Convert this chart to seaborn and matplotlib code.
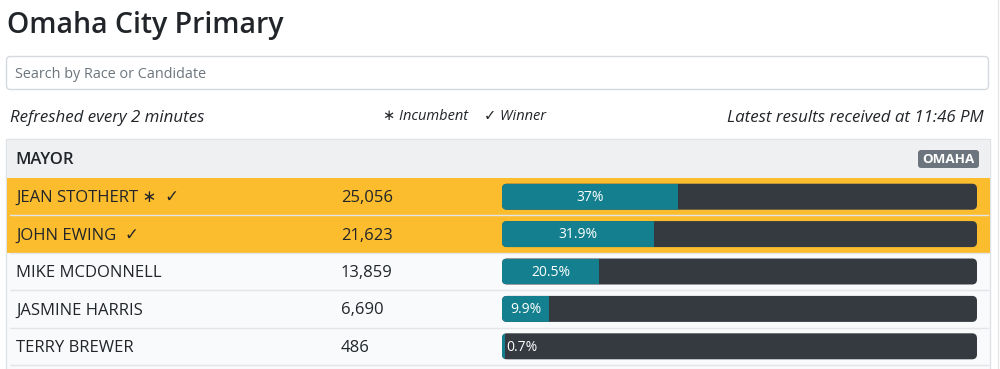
import pandas as pd
import numpy as np
import matplotlib.pyplot as plt
import seaborn as sns
from matplotlib.patches import Rectangle, FancyBboxPatch

# data
race = 'MAYOR'
region = 'OMAHA'
names = ['JEAN STOTHERT', 'JOHN EWING', 'MIKE MCDONNELL', 'JASMINE HARRIS', 'TERRY BREWER']
votes = [25056, 21623, 13859, 6690, 486]
pcts = [37.0, 31.9, 20.5, 9.9, 0.7]
incumbent = [True, False, False, False, False]
winner = [True, True, False, False, False]

sns.set_style('white')
plt.rcParams['font.family'] = ['Open Sans', 'DejaVu Sans']

dark = '#343a40'
teal = '#14808f'
yellow = '#fbbd2e'
txt = '#212529'

fig = plt.figure(figsize=(10, 3.69), dpi=100)
ax = fig.add_axes([0, 0, 1, 1])
ax.set_xlim(0, 1000)
ax.set_ylim(369, 0)
ax.axis('off')

# header
ax.text(7, 26, 'Omaha City Primary', fontsize=20.5, weight='semibold', color=txt, va='center')
ax.add_patch(FancyBboxPatch((6.5, 56.5), 982, 33, boxstyle='round,pad=0,rounding_size=4',
                            fc='white', ec='#d5d9dd', lw=1))
ax.text(15, 74, 'Search by Race or Candidate', fontsize=10.4, color='#6c757d', va='center')

ax.text(10, 118, 'Refreshed every 2 minutes', fontsize=12.2, style='italic', color=txt, va='center')
ax.text(383, 116, '∗ Incumbent', fontsize=10.5, style='italic', color=txt, va='center')
ax.text(484, 116, '✓ Winner', fontsize=10.5, style='italic', color=txt, va='center')
ax.text(984, 118, 'Latest results received at 11:46 PM', fontsize=12.2, style='italic',
        color=txt, va='center', ha='right')

# card
ax.add_patch(Rectangle((6, 139), 984, 240, fc='#f9fafb', ec='#dee2e6', lw=1))
ax.add_patch(Rectangle((6.5, 139.5), 983, 38.5, fc='#eff0f2', ec='none'))
ax.text(15, 160, race, fontsize=12, weight='semibold', color=txt, va='center')
ax.add_patch(FancyBboxPatch((918, 150), 61, 18, boxstyle='round,pad=0,rounding_size=3',
                            fc='#6c757d', ec='none'))
ax.text(948.5, 159.5, region, fontsize=9.6, weight='bold', color='white', va='center', ha='center')

row_top = 178
row_h = 37.4
for i, name in enumerate(names):
    y0 = row_top + i * row_h
    if winner[i]:
        ax.add_patch(Rectangle((6.5, y0), 983, row_h, fc=yellow, ec='none'))
    ax.plot([10, 988], [y0 + row_h, y0 + row_h], color='#e3e5e8', lw=1)
    label = name
    if incumbent[i]:
        label += ' ∗'
    if winner[i]:
        label += '  ✓'
    yc = y0 + row_h / 2 + 1.5
    ax.text(16, yc, label, fontsize=12, color=txt, va='center')
    ax.text(341, yc, f'{votes[i]:,}', fontsize=12, color=txt, va='center')

# progress bars
df = pd.DataFrame({'name': names, 'pct': pcts, 'full': [100] * len(names)})
bax = fig.add_axes([0.502, 1 - (row_top + 5 * row_h) / 369, 0.475, 5 * row_h / 369])
bax.patch.set_visible(False)
sns.barplot(data=df, x='full', y='name', color=dark, width=0.695, saturation=1,
            linewidth=0, ax=bax)
sns.barplot(data=df, x='pct', y='name', color=teal, width=0.695, saturation=1,
            linewidth=0, ax=bax)
bax.set_xlim(0, 100)
bax.set_ylim(len(names) - 0.5, -0.5)
bax.axis('off')

n = len(names)
bg = bax.patches[:n]
fg = bax.patches[n:]
for b, f in zip(bg, fg):
    rb = FancyBboxPatch((b.get_x(), b.get_y()), b.get_width(), b.get_height(),
                        boxstyle='round,pad=0,rounding_size=1.05', mutation_aspect=0.127,
                        fc=dark, ec='none')
    b.set_visible(False)
    bax.add_patch(rb)
    f.set_zorder(3)
    f.set_clip_path(rb)

for i, p in enumerate(pcts):
    lab = f'{p:g}%'
    if p < 5:
        bax.text(0.9, i + 0.02, lab, fontsize=10, color='white', va='center', ha='left', zorder=4)
    else:
        bax.text(p / 2, i + 0.02, lab, fontsize=10, color='white', va='center', ha='center', zorder=4)

# page edge line
ax.plot([998, 998], [0, 369], color='#e6e6e6', lw=1)

fig.savefig('out.png', dpi=100)
